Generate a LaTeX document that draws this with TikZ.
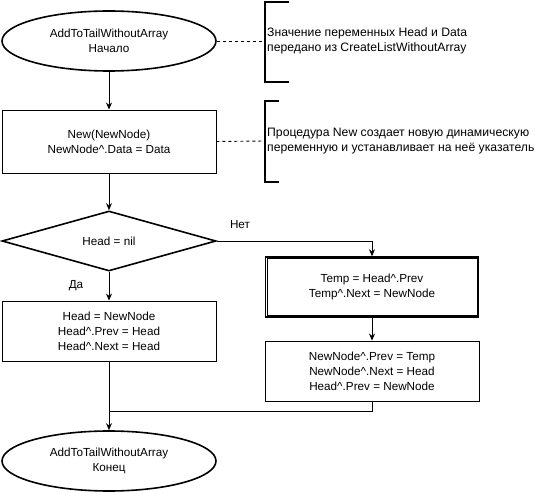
\documentclass[tikz,border=0pt]{standalone}
\usepackage{fontspec}
\setmainfont{Liberation Sans}
\usepackage{tikz}
\usetikzlibrary{shapes.geometric,arrows.meta}

\newcommand{\ptrsym}{\textasciicircum}

\tikzset{
  term/.style={ellipse,draw,line width=1.6pt,minimum width=214pt,minimum height=60pt,inner sep=0pt,align=center},
  proc/.style={rectangle,draw,line width=0.9pt,minimum width=214pt,minimum height=61pt,inner sep=0pt,align=center},
  cond/.style={diamond,draw,line width=1.6pt,minimum width=214pt,minimum height=60pt,inner sep=0pt,aspect=3.5,align=center},
  note/.style={anchor=west,inner sep=0pt,align=left,font=\fontsize{12.2}{15}\selectfont},
  link/.style={line width=0.9pt},
  >={Stealth[length=7pt,width=6pt]}
}

\begin{document}
\begin{tikzpicture}[x=1pt,y=-1pt,font=\fontsize{11.7}{15}\selectfont]
      \useasboundingbox (0,0) rectangle (536,492);
      \node[term] (start) at (109,41) {AddToTailWithoutArray\\Начало};
      \node[proc,minimum height=63pt] (newn) at (109,141.5) {New(NewNode)\\NewNode\ptrsym.Data = Data};
      \node[cond] (test) at (109,241) {Head = nil};
      \node[proc,minimum height=60pt] (first) at (109,331) {Head = NewNode\\Head\ptrsym.Prev = Head\\Head\ptrsym.Next = Head};
      \node[proc,line width=1.4pt,minimum width=213pt,minimum height=60pt] (temp) at (372,287) {Temp = Head\ptrsym.Prev\\Temp\ptrsym.Next = NewNode};
      \draw[line width=0.8pt] ([shift={(2.2pt,-2.2pt)}]temp.north west) rectangle ([shift={(-2.2pt,2.2pt)}]temp.south east);
      \node[proc,minimum height=60pt] (link) at (372,371) {NewNode\ptrsym.Prev = Temp\\NewNode\ptrsym.Next = Head\\Head\ptrsym.Prev = NewNode};
      \node[term] (stop) at (109,461) {AddToTailWithoutArray\\Конец};
      % comments on the right
      \coordinate (b1) at (265,41);
      \coordinate (b2) at (265,141);
      \draw[line width=1.6pt] (289,2) -| (265,82) -- (289,82);
      \draw[line width=1.6pt] (279,101) -| (265,182) -- (279,182);
      \node[note] (c1) at (267,41) {Значение переменных Head и Data\\передано из CreateListWithoutArray};
      \node[note] (c2) at (267,141) {Процедура New создает новую динамическую\\переменную и устанавливает на неё указатель};
      \draw[link,dash pattern=on 3pt off 3pt] (start.east) -- (b1);
      \draw[link,dash pattern=on 3pt off 3pt] (newn.east) -- (b2);
      % flow
      \draw[link,->] (start) -- (newn);
      \draw[link,->] (newn) -- (test);
      \draw[link,->] (test) -- (first);
      \draw[link,->] (test.east) -| (temp.north);
      \draw[link,->] (temp) -- (link);
      \draw[link,->] (first) -- (stop);
      \draw[link] (link.south) |- (109,411);
      \node (yes) at (76,286) {Да};
      \node (no) at (240,225) {Нет};
    \end{tikzpicture}
\end{document}
